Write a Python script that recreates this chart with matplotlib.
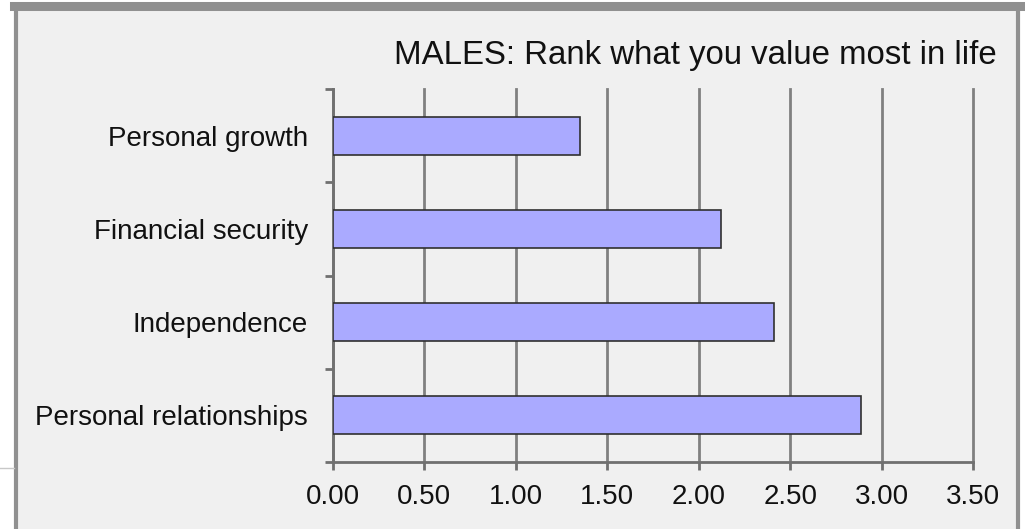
import matplotlib
matplotlib.use("Agg")
import matplotlib.pyplot as plt
from matplotlib.patches import Rectangle
from matplotlib.lines import Line2D
import numpy as np

categories = ["Personal growth", "Financial security", "Independence", "Personal relationships"]
values = [1.35, 2.12, 2.41, 2.89]
xticks = [0.0, 0.5, 1.0, 1.5, 2.0, 2.5, 3.0, 3.5]
xtick_labels = ["0.00", "0.50", "1.00", "1.50", "2.00", "2.50", "3.00", "3.50"]
title = "MALES: Rank what you value most in life"

plt.rcParams['font.family'] = ['Liberation Sans', 'DejaVu Sans']

W, H = 1025, 529
fig = plt.figure(figsize=(W / 100, H / 100), dpi=100)
fig.patch.set_facecolor('white')

def fx(px):
    return px / W

def fy(py):
    return 1 - py / H

# outer frame
fig.patches.append(Rectangle((fx(16), fy(H + 10)), fx(1018) - fx(16), fy(8) - fy(H + 10),
                             transform=fig.transFigure, facecolor='#f0f0f0',
                             edgecolor='none', zorder=-5))
fig.lines.append(Line2D([fx(14), fx(1020)], [fy(6), fy(6)], transform=fig.transFigure,
                        color='#909090', linewidth=6.5, zorder=-4))
fig.lines.append(Line2D([fx(16), fx(16)], [fy(6), fy(H + 5)], transform=fig.transFigure,
                        color='#909090', linewidth=3, zorder=-4))
fig.lines.append(Line2D([fx(1018), fx(1018)], [fy(6), fy(H + 5)], transform=fig.transFigure,
                        color='#909090', linewidth=3, zorder=-4))
fig.lines.append(Line2D([fx(0), fx(14)], [fy(467.5), fy(467.5)], transform=fig.transFigure,
                        color='#c8c8c8', linewidth=1, zorder=-4))

ax = fig.add_axes([fx(333), fy(462), fx(973) - fx(333), fy(89) - fy(462)])
ax.set_zorder(5)
ax.set_facecolor('none')

ypos = np.arange(len(categories))
ax.barh(ypos, values, height=0.41, color='#aaaaff', edgecolor='#303030',
        linewidth=1.2, zorder=3)

ax.set_xlim(0, 3.5)
ax.set_ylim(len(categories) - 0.5, -0.5)

ax.set_xticks(xticks)
ax.set_xticklabels(xtick_labels, fontsize=20, color='#111111')
ax.tick_params(axis='x', length=6, width=2, color='#707070', pad=10)

ax.set_yticks(np.arange(len(categories) + 1) - 0.5)
ax.set_yticklabels([])
ax.tick_params(axis='y', which='major', length=6, width=2, color='#707070')
ax.set_yticks(ypos, minor=True)
ax.set_yticklabels(categories, minor=True, fontsize=20, color='#111111')
ax.tick_params(axis='y', which='minor', length=0, pad=18)

ax.grid(axis='x', color='#808080', linewidth=2, zorder=1)
for gl in ax.get_xgridlines():
    gl.set_clip_on(False)
for s in ['top', 'right']:
    ax.spines[s].set_visible(False)
for s in ['left', 'bottom']:
    ax.spines[s].set_color('#707070')
    ax.spines[s].set_linewidth(2)

fig.text(fx(997), fy(64), title, ha='right', va='baseline', fontsize=23.8, color='#111111')

fig.savefig('out.png', dpi=100, facecolor=fig.get_facecolor())
